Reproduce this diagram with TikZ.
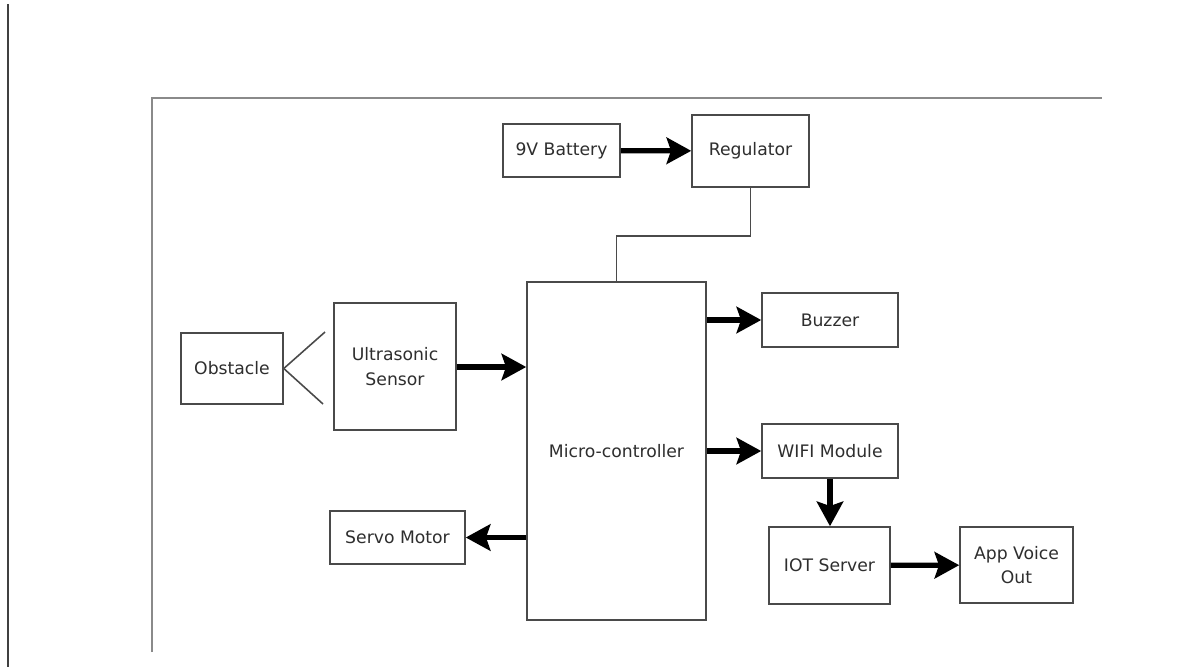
\documentclass[tikz,border=0pt]{standalone}
\usepackage{fontspec}
\setmainfont{DejaVu Sans}
\usepackage{xcolor}
\usetikzlibrary{arrows.meta}

\definecolor{boxgray}{HTML}{4A4A4A}
\definecolor{textgray}{HTML}{2E2E2E}
\definecolor{framegray}{HTML}{8A8A8A}

\tikzset{
    block/.style={
            draw=boxgray,
            line width=0.9pt,
            fill=white,
            text=textgray,
            inner sep=0pt,
            align=center,
            font=\fontsize{9.8}{14}\selectfont
        },
    flow/.style={
            line width=3pt,
            -{Stealth[length=14pt, width=15pt, inset=2.5pt]}
        },
    wire/.style={
            draw=boxgray,
            line width=0.9pt
        }
}

\begin{document}
\begin{tikzpicture}[x=0.02cm, y=-0.02cm]
            \useasboundingbox (0,0) rectangle (1194,667);

            % page edges
            \draw[line width=1pt, black!75] (8,4)--(8,667);
            \draw[line width=0.8pt, framegray] (152,652)--(152,98)--(1102,98);

            % blocks
            \node[block, minimum width=2.34cm, minimum height=1.06cm] (batt) at (561.5,150.5) {9V Battery};
            \node[block, minimum width=2.34cm, minimum height=1.44cm] (reg) at (750.5,151) {Regulator};
            \node[block, minimum width=3.58cm, minimum height=6.76cm] (mcu) at (616.5,451) {Micro-controller};
            \node[block, minimum width=2.72cm, minimum height=1.08cm] (buzz) at (830,320) {Buzzer};
            \node[block, minimum width=2.72cm, minimum height=1.08cm] (wifi) at (830,451) {WIFI Module};
            \node[block, minimum width=2.42cm, minimum height=1.54cm] (iot) at (829.5,565.5) {IOT Server};
            \node[block, minimum width=2.26cm, minimum height=1.52cm] (app) at (1016.5,565) {App Voice\\Out};
            \node[block, minimum width=2.70cm, minimum height=1.06cm] (servo) at (397.5,537.5) {Servo Motor};
            \node[block, minimum width=2.44cm, minimum height=2.54cm] (sensor) at (395,366.5) {Ultrasonic\\Sensor};
            \node[block, minimum width=2.04cm, minimum height=1.42cm] (obs) at (232,368.5) {Obstacle};

            % supply
            \draw[flow] (batt) -- (reg);
            \draw[wire] (reg.south) -- ++(0,48) -| (mcu.north);

            % signal arrows
            \draw[flow] (sensor.east |- 0,367) -- (mcu.west |- 0,367);
            \draw[flow] (mcu.east |- buzz) -- (buzz);
            \draw[flow] (mcu.east |- wifi) -- (wifi);
            \draw[flow] (mcu.west |- servo) -- (servo);
            \draw[flow] (wifi) -- (wifi |- iot.north);
            \draw[flow] (iot) -- (app);

            % echo lines
            \coordinate (echoup) at (325,332);
            \coordinate (echodown) at (323,404);
            \draw[wire] (obs.east) -- (echoup);
            \draw[wire] (obs.east) -- (echodown);

        \end{tikzpicture}
\end{document}
